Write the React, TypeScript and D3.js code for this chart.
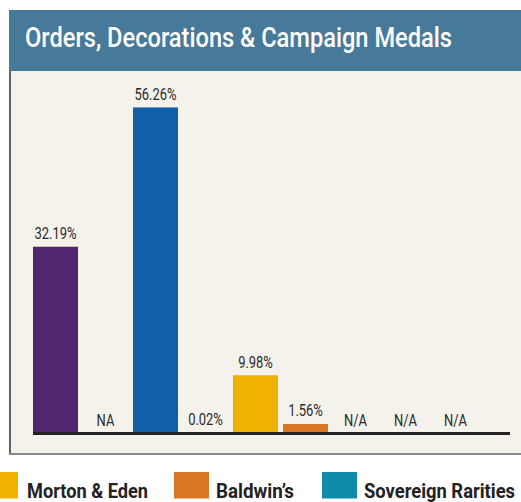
import React from "react";
import * as d3 from "d3";

const categories = ["A", "B", "C", "D", "E", "F", "G", "H", "I"];
const values: (number | null)[] = [32.19, null, 56.26, 0.02, 9.98, 1.56, null, null, null];
const labels = ["32.19%", "NA", "56.26%", "0.02%", "9.98%", "1.56%", "N/A", "N/A", "N/A"];
const barColors = ["#52266f", "#888", "#1060aa", "#0e8ba8", "#f0b100", "#d97621", "#888", "#888", "#888"];
const legendNames = ["Morton & Eden", "Baldwin\u2019s", "Sovereign Rarities"];
const legendColors = ["#f0b100", "#d97621", "#0e8ba8"];

const W = 521;
const H = 502;

export default function App() {
  const x = d3.scaleBand<string>().domain(categories).range([30.5, 480.5]).paddingInner(0.1).paddingOuter(0.05);
  const y = d3.scaleLinear().domain([0, 60]).range([433, 85.8]);
  const legendX = [0, 174, 322];
  const legendW = [18, 35, 35];
  const legendTextX = [27, 216, 364];
  const legendTextLen = [121, 78, 151];
  const font = "Roboto, 'Noto Sans', sans-serif";
  return (
    <svg width={W} height={H} style={{ position: "absolute", left: 0, top: 0, background: "#fff" }}>
      <rect x={9} y={71} width={W - 9} height={383} fill="#f5f2eb" />
      <line x1={10} x2={10} y1={71} y2={454} stroke="#333" strokeWidth={1.5} />
      <line x1={9} x2={W} y1={454} y2={454} stroke="#8a8a8a" strokeWidth={2} />
      <rect x={9} y={10} width={W - 9} height={61} fill="#47799a" />
      <text
        x={25}
        y={47}
        fill="#fff"
        fontFamily={font}
        fontWeight={500}
        fontSize={27}
        textLength={427}
        lengthAdjust="spacingAndGlyphs"
      >
        Orders, Decorations &amp; Campaign Medals
      </text>
      {categories.map((c, i) => {
        const v = values[i];
        const bx = x(c)!;
        const top = v == null ? y(0) : y(v);
        return (
          <g key={c}>
            {v != null && (
              <rect x={bx} y={top} width={x.bandwidth()} height={y(0) - top} fill={barColors[i]} />
            )}
            <text
              transform={`translate(${bx + x.bandwidth() / 2},${top - 7.5}) scale(0.81,1)`}
              textAnchor="middle"
              fontFamily={font}
              fontSize={16}
              fill="#2b2b2b"
            >
              {labels[i]}
            </text>
          </g>
        );
      })}
      <line x1={33} x2={510} y1={433.5} y2={433.5} stroke="#222" strokeWidth={3} />
      {legendNames.map((n, i) => (
        <g key={n}>
          <rect x={legendX[i]} y={472} width={legendW[i]} height={26.5} fill={legendColors[i]} />
          <text
            x={legendTextX[i]}
            y={498}
            fontFamily={font}
            fontWeight={700}
            fontSize={21}
            fill="#222"
            textLength={legendTextLen[i]}
            lengthAdjust="spacingAndGlyphs"
          >
            {n}
          </text>
        </g>
      ))}
    </svg>
  );
}
